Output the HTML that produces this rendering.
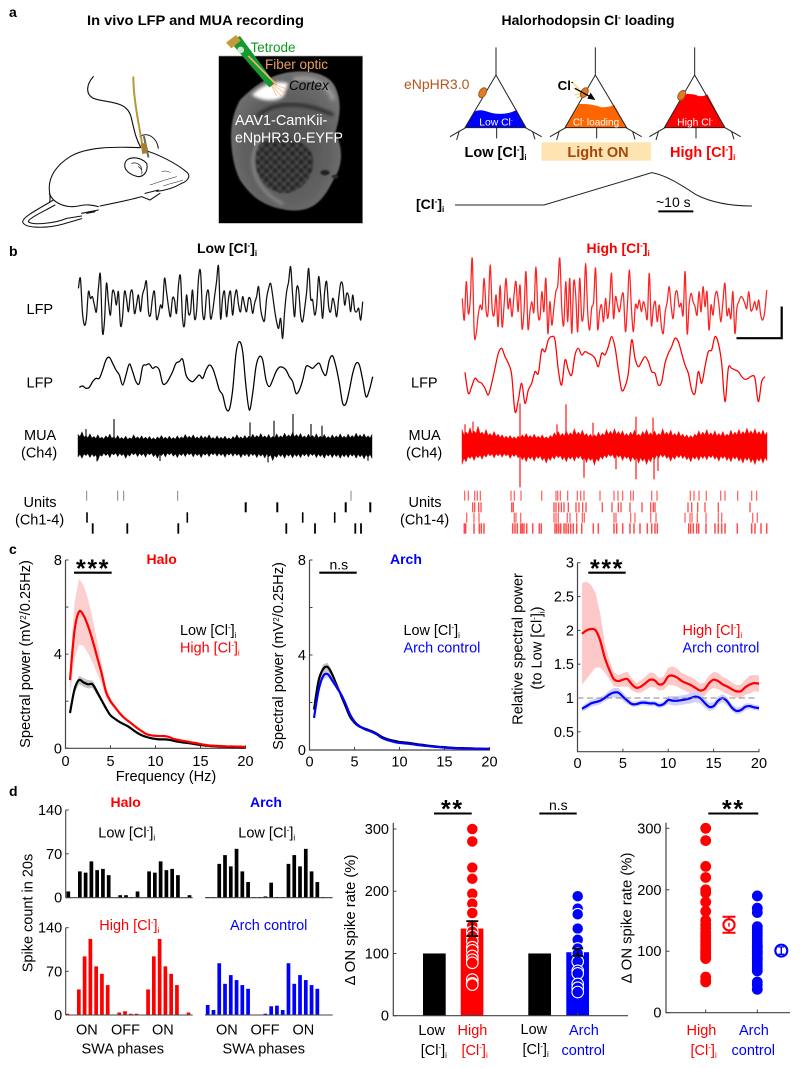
<!DOCTYPE html>
<html lang="en">
<head>
<meta charset="utf-8">
<title>Halorhodopsin chloride loading figure</title>
<style>
html,body{margin:0;padding:0;background:#fff}
svg{display:block;font-family:"Liberation Sans",sans-serif;fill:#000}
.b{font-weight:bold}
.red{fill:#f00}
.blue{fill:#00f}
</style>
</head>
<body>
<svg id="fig" xmlns="http://www.w3.org/2000/svg" width="800" height="1068" viewBox="0 0 800 1068">
<defs>
<radialGradient id="brainGrad" cx="50%" cy="55%" r="62%"><stop offset="0" stop-color="#4a4a4a"/><stop offset=".65" stop-color="#626262"/><stop offset="1" stop-color="#787878"/></radialGradient>
<pattern id="speck" width="26" height="26" patternUnits="userSpaceOnUse"><rect width="26" height="26" fill="#383838"/><circle cx="6" cy="7" r="4" fill="#1c1c1c"/><circle cx="19" cy="18" r="5" fill="#202020"/><circle cx="20" cy="5" r="3" fill="#5a5a5a"/><circle cx="7" cy="20" r="3" fill="#565656"/></pattern>
<filter id="soft" x="-20%" y="-20%" width="140%" height="140%"><feGaussianBlur stdDeviation="5"/></filter>
<filter id="soft2" x="-20%" y="-20%" width="140%" height="140%"><feGaussianBlur stdDeviation="2"/></filter>
</defs>
<rect width="800" height="1068" fill="#fff"/>

<!-- Panel letters -->
<text class="b" font-size="14" x="9" y="17">a</text>
<text class="b" font-size="14" x="9" y="256">b</text>
<text class="b" font-size="14" x="9" y="554">c</text>
<text class="b" font-size="14" x="9" y="796">d</text>

<!-- Panel a left -->
<text class="b" font-size="14" x="87" y="25" textLength="217" lengthAdjust="spacingAndGlyphs">In vivo LFP and MUA recording</text>
<g transform="scale(.33333)" fill="none" stroke="#111" stroke-width="3.2" stroke-linecap="round">
<path d="M280 230C262 250 253 280 280 295C320 310 380 300 393 350C403 390 405 410 422 442" stroke-width="3.5"/>
<path d="M420 443C340 440 260 440 210 470C170 495 145 530 148 570C150 590 152 600 148 608"/>
<path d="M160 600C120 625 68 650 68 665C72 686 140 686 190 672L245 656"/>
<path d="M165 615C130 635 85 655 85 665C100 678 170 668 200 655L245 648"/>
<path d="M148 580C160 612 200 625 235 618M235 618C260 612 275 615 295 620M245 640L295 630M260 640L285 635"/>
<path d="M300 618C340 610 390 600 425 590L450 600L480 580M435 580L475 570"/>
<path d="M430 450C470 460 530 490 562 518C574 530 560 545 545 550C520 565 490 572 470 574"/>
<path d="M375 490C380 468 420 468 440 490C446 515 430 530 415 530C390 525 370 510 375 490Z"/>
<path d="M395 490C410 485 425 495 425 510M415 500C425 505 428 515 425 522" stroke-width="2"/>
<path d="M485 515Q497 510 510 517M490 558C510 550 530 548 548 540M450 555C480 545 510 535 530 530" stroke-width="1.5"/>
<path d="M420 410C440 395 470 410 475 445" stroke-width="3"/>
<path d="M432 410L445 470" stroke-width="6" stroke="#666"/>
<path d="M400 232C400 300 420 390 430 452" stroke="#b8973a" stroke-width="6"/>
<path d="M424 432L438 430L440 458L428 460Z" fill="#a87e2a" stroke="#a87e2a"/>
</g>
<g transform="scale(.33333)">
<rect x="656" y="168" width="432" height="502" fill="#000" stroke="#aaa" stroke-width="2"/>
<path d="M720 300C760 260 800 230 860 218C930 205 990 225 1005 260C1025 300 1022 350 1005 400C1025 430 1035 490 1000 540C970 600 940 640 860 630C800 620 760 600 720 540C695 490 690 420 695 380C700 340 710 320 720 300Z" fill="url(#brainGrad)" filter="url(#soft2)"/>
<path d="M770 350C820 305 900 300 1000 345" fill="none" stroke="#2a2a2a" stroke-width="10" filter="url(#soft)"/>
<path d="M880 240C930 225 985 250 1000 300" fill="none" stroke="#9a9a9a" stroke-width="14" filter="url(#soft)"/>
<path d="M770 440C800 400 900 400 935 460C955 520 905 580 850 580C790 575 750 510 770 440Z" fill="url(#speck)" filter="url(#soft2)"/>
<path d="M780 420C738 480 760 570 850 612" fill="none" stroke="#8c8c8c" stroke-width="8" filter="url(#soft)"/>
<ellipse cx="975" cy="518" rx="14" ry="8" fill="#222" filter="url(#soft2)"/>
<ellipse cx="1005" cy="530" rx="10" ry="6" fill="#2a2a2a" filter="url(#soft2)"/>
<path d="M755 285C790 250 830 240 865 250L850 290C820 310 780 300 755 285Z" fill="#fff" filter="url(#soft)"/>
<path d="M690 125L720 108L825 250L808 262Z" fill="#149a2e"/>
<path d="M678 128L708 105L722 122L694 145Z" fill="#c69a3a"/>
<circle cx="722" cy="150" r="10" fill="#cde8cf"/>
<path d="M745 168L830 255" stroke="#f2b077" stroke-width="5" fill="none"/>
<path d="M820 252L862 268M820 255L858 282M818 258L845 290M815 258L830 288" stroke="#f5b070" stroke-width="2" fill="none"/>
</g>
<text style="fill:#0c9a22" font-size="13.5" x="250.5" y="52">Tetrode</text>
<text style="fill:#ec9f5e" font-size="13.5" x="265" y="69">Fiber optic</text>
<text font-style="italic" font-size="13.5" x="289" y="90">Cortex</text>
<text style="fill:#fff" font-size="14.5" x="235" y="125">AAV1-CamKii-</text>
<text style="fill:#fff" font-size="14.5" x="235" y="142.5" textLength="108" lengthAdjust="spacingAndGlyphs">eNpHR3.0-EYFP</text>

<!-- Panel a right -->
<text class="b" font-size="14" x="501.5" y="25">Halorhodopsin Cl<tspan dy="-5" font-size="8">-</tspan><tspan dy="5"> loading</tspan></text>
<g transform="translate(400 0) scale(.33333)" fill="none" stroke="#222" stroke-width="3">
<g>
<path d="M195 383L222 335Q240 326 265 336Q310 350 350 330L378 383Z" fill="#00f" stroke="none"/>
<path d="M288 142V225M288 225L195 383H378ZM290 383V415M197 383L150 410M178 392L170 420M376 383L425 410M398 395L405 418"/>
<ellipse cx="248" cy="278" rx="16" ry="10" transform="rotate(-60 248 278)" fill="#e07b28" stroke="#9c5a1f" stroke-width="3"/>
<text x="288" y="376" text-anchor="middle" font-size="31" stroke="none" style="fill:#fff">Low Cl<tspan dy="-12" font-size="17">-</tspan></text>
</g>
<g>
<path d="M495 383L538 312Q570 310 605 322Q630 322 642 314L680 383Z" fill="#f60" stroke="none"/>
<path d="M586 142V225M586 225L495 383H680ZM590 383V415M497 383L450 410M478 392L470 420M678 383L725 410M698 395L705 418"/>
<path d="M515 245L538 268M520 265L540 275M525 285L542 280M530 295L545 285" stroke="#f6d67a" stroke-width="4"/>
<ellipse cx="553" cy="278" rx="16" ry="10" transform="rotate(-60 553 278)" fill="#e07b28" stroke="#9c5a1f" stroke-width="3"/>
<path d="M525 265L570 290" stroke="#000" stroke-width="4"/>
<path d="M586 300L562 296L572 278Z" fill="#000" stroke="none"/>
<text x="588" y="376" text-anchor="middle" font-size="30" stroke="none" style="fill:#fff">Cl<tspan dy="-12" font-size="17">-</tspan><tspan dy="12"> loading</tspan></text>
<text x="473" y="270" font-size="40" font-weight="bold" stroke="none" style="fill:#000">Cl<tspan dy="-16" font-size="22">-</tspan></text>
</g>
<g>
<path d="M793 383L850 283Q880 280 895 288Q910 290 922 283L975 383Z" fill="#f00" stroke="none"/>
<path d="M884 142V225M884 225L793 383H975ZM888 383V415M795 383L748 410M776 392L768 420M975 383L1022 410M995 395L1002 418"/>
<ellipse cx="845" cy="286" rx="16" ry="10" transform="rotate(-60 845 286)" fill="#e07b28" stroke="#9c5a1f" stroke-width="3"/>
<text x="885" y="376" text-anchor="middle" font-size="31" stroke="none" style="fill:#fff">High Cl<tspan dy="-12" font-size="17">-</tspan></text>
</g>
<rect x="425" y="427" width="328" height="55" fill="#fde4b0" stroke="none"/>
<path d="M165 615L432 615L755 518C800 525 850 560 890 585C940 610 1000 618 1056 618"/>
<path d="M775 634H880" stroke="#000" stroke-width="6"/>
</g>
<text style="fill:#b5561d" font-size="14" x="404" y="89">eNpHR3.0</text>
<text class="b" font-size="14.5" x="464.5" y="157">Low [Cl<tspan dy="-5" font-size="8">-</tspan><tspan dy="5">]</tspan><tspan dy="3" font-size="8">i</tspan></text>
<text class="b" font-size="14.5" style="fill:#a8450f" x="598" y="157" text-anchor="middle">Light ON</text>
<text class="b red" font-size="14.5" x="670" y="157">High [Cl<tspan dy="-5" font-size="8">-</tspan><tspan dy="5">]</tspan><tspan dy="3" font-size="8">i</tspan></text>
<text class="b" font-size="14" x="416" y="209">[Cl<tspan dy="-5" font-size="8">-</tspan><tspan dy="5">]</tspan><tspan dy="3" font-size="8">i</tspan></text>
<text font-size="14" x="656" y="207">~10 s</text>

<!-- Panel b text -->
<text class="b" font-size="14" x="197" y="253">Low [Cl<tspan dy="-5" font-size="8">-</tspan><tspan dy="5">]</tspan><tspan dy="3" font-size="8">i</tspan></text>
<text class="b red" font-size="14" x="586.5" y="253">High [Cl<tspan dy="-5" font-size="8">-</tspan><tspan dy="5">]</tspan><tspan dy="3" font-size="8">i</tspan></text>
<g font-size="14.5">
<text x="26.5" y="314">LFP</text>
<text x="26.5" y="387.5">LFP</text>
<text x="24" y="440">MUA</text>
<text x="21" y="457.5">(Ch4)</text>
<text x="23.5" y="507">Units</text>
<text x="15" y="524.5">(Ch1-4)</text>
<text x="411" y="387.5">LFP</text>
<text x="408.5" y="440">MUA</text>
<text x="406" y="457.5">(Ch4)</text>
<text x="408.5" y="507">Units</text>
<text x="400" y="524.5">(Ch1-4)</text>
</g>
<path d="M781.7 306.5V338.2H736.5" fill="none" stroke="#000" stroke-width="2.2"/>
<g id="traces"></g>

<!-- Panel c text -->
<text class="b red" font-size="14" x="146.5" y="564">Halo</text>
<text class="b blue" font-size="14" x="390" y="564">Arch</text>
<text font-size="14.6" transform="translate(30 654) rotate(-90)" text-anchor="middle">Spectral power (mV<tspan dy="-4" font-size="8">2</tspan><tspan dy="4">/0.25Hz)</tspan></text>
<text font-size="14.6" transform="translate(283 656) rotate(-90)" text-anchor="middle">Spectral power (mV<tspan dy="-4" font-size="8">2</tspan><tspan dy="4">/0.25Hz)</tspan></text>
<text font-size="14.6" transform="translate(522.5 649) rotate(-90)" text-anchor="middle">Relative spectral power</text>
<text font-size="14.6" transform="translate(541.5 648) rotate(-90)" text-anchor="middle">(to Low [Cl<tspan dy="-5" font-size="8">-</tspan><tspan dy="5">]</tspan><tspan dy="3" font-size="8">i</tspan><tspan dy="-3">)</tspan></text>
<text font-size="14.6" x="166" y="781" text-anchor="middle">Frequency (Hz)</text>
<g font-size="14.4">
<text x="180" y="635">Low [Cl<tspan dy="-5" font-size="8">-</tspan><tspan dy="5">]</tspan><tspan dy="3" font-size="8">i</tspan></text>
<text class="red" x="180" y="652.5">High [Cl<tspan dy="-5" font-size="8">-</tspan><tspan dy="5">]</tspan><tspan dy="3" font-size="8">i</tspan></text>
<text x="403.5" y="635">Low [Cl<tspan dy="-5" font-size="8">-</tspan><tspan dy="5">]</tspan><tspan dy="3" font-size="8">i</tspan></text>
<text class="blue" x="403.5" y="652.5">Arch control</text>
<text class="red" x="682.5" y="635">High [Cl<tspan dy="-5" font-size="8">-</tspan><tspan dy="5">]</tspan><tspan dy="3" font-size="8">i</tspan></text>
<text class="blue" x="682.5" y="652.5">Arch control</text>
</g>
<g>
<path d="M74 572.7H111.7" stroke="#000" stroke-width="2.2"/>
<text class="b" font-size="25" letter-spacing="1.6" x="76" y="577">***</text>
<path d="M319.3 572.7H356.7" stroke="#000" stroke-width="2.2"/>
<text font-size="14" x="329.5" y="569.5">n.s</text>
<path d="M588.3 572.7H625.7" stroke="#000" stroke-width="2.2"/>
<text class="b" font-size="25" letter-spacing="1.6" x="590" y="577">***</text>
</g>
<g id="spectra"></g>

<!-- Panel d text -->
<text class="b red" font-size="14" x="110.5" y="807">Halo</text>
<text class="b blue" font-size="14" x="250" y="807">Arch</text>
<g font-size="14.5">
<text x="98.3" y="837.5">Low [Cl<tspan dy="-5" font-size="8">-</tspan><tspan dy="5">]</tspan><tspan dy="3" font-size="8">i</tspan></text>
<text x="238.3" y="837.5">Low [Cl<tspan dy="-5" font-size="8">-</tspan><tspan dy="5">]</tspan><tspan dy="3" font-size="8">i</tspan></text>
<text class="red" x="99.3" y="930">High [Cl<tspan dy="-5" font-size="8">-</tspan><tspan dy="5">]</tspan><tspan dy="3" font-size="8">i</tspan></text>
<text class="blue" x="230" y="930">Arch control</text>
<text transform="translate(32.5 913) rotate(-90)" text-anchor="middle">Spike count in 20s</text>
<text x="76" y="1034.5">ON</text>
<text x="111" y="1034.5">OFF</text>
<text x="152" y="1034.5">ON</text>
<text x="216" y="1034.5">ON</text>
<text x="250.5" y="1034.5">OFF</text>
<text x="292.5" y="1034.5">ON</text>
<text x="81.5" y="1053.5">SWA phases</text>
<text x="222.5" y="1053.5">SWA phases</text>
<text transform="translate(355 920) rotate(-90)" text-anchor="middle" font-size="14.8">Δ ON spike rate (%)</text>
<text transform="translate(631.5 918) rotate(-90)" text-anchor="middle" font-size="14.8">Δ ON spike rate (%)</text>
<text x="431.7" y="1035" text-anchor="middle">Low</text>
<text x="420.7" y="1055">[Cl<tspan dy="-5" font-size="8">-</tspan><tspan dy="5">]</tspan><tspan dy="3" font-size="8">i</tspan></text>
<text class="red" x="457.5" y="1035">High</text>
<text class="red" x="461.5" y="1055">[Cl<tspan dy="-5" font-size="8">-</tspan><tspan dy="5">]</tspan><tspan dy="3" font-size="8">i</tspan></text>
<text x="520.5" y="1034">Low</text>
<text x="522.5" y="1054">[Cl<tspan dy="-5" font-size="8">-</tspan><tspan dy="5">]</tspan><tspan dy="3" font-size="8">i</tspan></text>
<text class="blue" x="569" y="1035">Arch</text>
<text class="blue" x="561.5" y="1055">control</text>
<text class="red" x="686.5" y="1035">High</text>
<text class="red" x="690.5" y="1055">[Cl<tspan dy="-5" font-size="8">-</tspan><tspan dy="5">]</tspan><tspan dy="3" font-size="8">i</tspan></text>
<text class="blue" x="739" y="1035">Arch</text>
<text class="blue" x="731.5" y="1055">control</text>
</g>
<g>
<path d="M434 813.5H471.7" stroke="#000" stroke-width="2"/>
<text class="b" font-size="25" letter-spacing="1.6" x="441" y="817.5">**</text>
<path d="M539.3 813.5H576.7" stroke="#000" stroke-width="2"/>
<text font-size="14" x="549" y="810">n.s</text>
<path d="M708.3 813.5H758.3" stroke="#000" stroke-width="2"/>
<text class="b" font-size="25" letter-spacing="1.6" x="722" y="817.5">**</text>
</g>
<g id="rates"></g>
</svg>

<script>
/* ---------- Panel b data (signal units, seconds) ---------- */
const lfpFastLow = [40,70,-30,-70,-50,30,10,15,-10,-30,40,80,-90,-60,55,0,-40,30,25,-10,30,-70,-50,30,10,-30,25,30,-35,-10,20,-30,20,40,60,-30,-40,10,30,-50,-40,-10,-15,70,30,-15,-45,10,5,-35,50,75,-50,-70,20,-35,-30,35,-50,-30,70,90,-30,-50,20,30,-50,-30,15,60,105,-50,10,30,-45,10,30,-40,10,35,-10,-30,15,-10,-30,10,5,-35,-5,15,45,-20,-50,-55,10,40,55,20,-25,-60,-80,-50,-110,-30,30,60,105,20,-45,40,35,-40,-60,-20,30,100,10,5,-40,-10,75,20,-50,30,60,-15,-30,10,-10,-45,10,55,50,-10,25,15,-30,20,-25,-30,-20,-55,0];
const lfpFastHigh = [10,-55,60,-35,5,130,-95,-95,-40,-10,-20,70,-30,-30,110,-20,-40,20,-75,50,-75,-10,70,-20,10,-45,20,60,-30,50,-80,-30,90,-80,-30,0,-30,105,-30,-50,30,-30,70,-95,0,-70,-20,30,50,130,-20,-70,60,-60,70,-95,60,20,-90,70,-50,-30,115,-30,-85,-20,0,100,-80,-30,-10,-60,10,-50,-5,85,-50,15,-10,-30,10,20,-90,-10,95,-20,-90,-10,-20,5,-30,0,-20,-50,85,-70,-20,0,-60,-10,-70,-95,-30,0,45,-15,-50,20,30,-15,-5,-40,90,-95,-10,25,0,-15,-40,30,-30,45,-15,30,-85,-10,-40,15,30,-10,-60,0,55,-40,-20,-50,30,-95,-20,0,15,10,-5,-20,30,-25,-20,0,-25,5,-40,-55,-30,35];
const lfpSlowLow = [-22,-18,-25,-22,-5,5,5,30,60,68,50,30,15,-15,15,48,25,-5,-10,40,45,48,35,40,30,-10,-10,5,25,50,55,62,15,0,-5,5,15,5,30,45,35,5,-30,-45,-85,-88,-30,80,115,85,-20,-90,-40,40,70,60,0,-20,0,25,38,38,30,10,-5,-40,-30,0,40,40,35,45,50,25,15,60,72,40,-10,-70,-70,-30,20,50,45,0,-50,-30,10];
const lfpSlowHigh = [3,-60,-40,-15,-25,-30,-45,-65,-30,15,60,75,50,30,-5,-115,-80,-30,-90,-50,-30,5,0,70,65,100,110,100,10,-35,40,10,-5,55,75,55,65,60,55,45,20,60,55,80,110,78,10,-50,-40,0,100,45,20,35,50,35,5,0,-35,-25,30,60,80,105,95,60,25,0,-50,-60,5,-30,20,65,70,110,90,30,-85,15,15,10,5,-10,-18,-15,-8,-15,-85,-25,-10];
const muaTopLow = [34,42,30,36,28,33,26,30,35,27,31,25,29,24,33,27,30,26,28,24,27,31,26,29,25,30,27,34,29,33,27,31,28,33,25,30,26,29,24,28,33,27,31,29,35,31,37,30,34,28,36,30,38,33,40,34,37,30,35,31,36,29,34,28,33,30,36,29,35,31,38,33,36,30,34];
const muaBottomLow = [-34,-38,-30,-36,-33,-44,-32,-30,-36,-28,-33,-30,-38,-32,-28,-33,-30,-35,-28,-33,-38,-30,-34,-28,-32,-36,-30,-33,-28,-34,-30,-36,-29,-33,-28,-32,-30,-35,-29,-32,-30,-36,-31,-34,-30,-36,-32,-37,-33,-45,-36,-33,-38,-32,-37,-33,-36,-31,-34,-30,-36,-33,-38,-32,-36,-33,-38,-34,-36,-32,-38,-34,-40,-35,-38];
const muaTopHigh = [50,42,55,45,60,42,50,38,44,36,34,30,32,28,30,34,38,32,36,30,34,28,32,40,44,38,46,40,52,42,48,38,36,34,42,38,50,45,52,44,46,38,42,48,36,44,50,40,46,38,52,42,48,38,44,36,34,32,36,46,42,50,40,46,38,44,36,48,42,50,44,54,46,52,44,48,42];
const muaBottomHigh = [-55,-48,-38,-44,-36,-40,-34,-30,-36,-30,-34,-30,-38,-32,-36,-42,-48,-40,-46,-38,-44,-52,-44,-40,-36,-42,-48,-40,-46,-38,-42,-50,-44,-58,-46,-40,-36,-32,-38,-34,-44,-38,-48,-42,-52,-46,-56,-48,-40,-36,-34,-38,-46,-40,-36,-38,-42,-48,-40,-44,-38,-42,-36,-40,-46,-38,-44,-48,-40,-46,-52,-44,-50,-56,-46,-52,-44];
const muaSpikeTimesLow = [0.8,3.6,17.2,19.6,21.5,23.3,24.4,1.9,8.2,19.0,29.0];
const muaSpikeValuesLow = [50,80,70,75,95,65,60,-47,-46,-50,-45];
const muaSpikeTimesHigh = [5.8,5.8,10.4,17.4,19.1,13.1,9.5,1.1,0.3,12.2,17.4,19.2,15.4,19.6];
const muaSpikeValuesHigh = [128,-124,125,88,85,70,65,73,65,-95,-100,-100,-70,-75];
const unitsLow1 = [0.87,3.97,4.57,9.97,27.3];
const unitsLow2 = [16.77,19.93,26.77,29.23];
const unitsLow3 = [0.9,10.93,22.47,25.67];
const unitsLow4 = [1.47,4.93,10.03,20.83,23.7,27.73,28.3];
const unitsHigh1 = [0.27,0.63,1.27,1.53,1.83,4.9,5.23,5.9,7.97,9.4,9.57,9.83,10.57,11.53,11.87,12.2,13.8,15.2,15.6,16.07,16.87,17.13,18.97,19.5,22.83,23.2,23.7,24.43,25.87,26.3,27.57,28.97,29.47];
const unitsHigh2 = [1.07,1.27,1.67,1.9,4.97,5.13,9.2,9.4,9.67,9.93,10.2,10.63,11.4,11.7,12.07,12.4,14.03,15,15.63,15.9,16.8,18,18.87,19.13,19.3,22.6,22.97,23.57,24.3,25.63,28.8];
const unitsHigh3 = [0.47,1.2,1.7,5.23,5.4,5.87,9.2,9.4,9.63,10.53,10.8,11.47,12.03,12.23,15.2,15.4,16.87,17.3,18.87,19.4,22.3,22.8,23,23.53,24.4,25.63,25.97,29.07,29.53];
const unitsHigh4 = [0.23,0.37,1.2,1.73,1.93,2.2,5.07,5.3,5.53,5.87,6.03,6.2,6.47,7.07,7.73,7.93,9.3,9.47,9.67,9.87,10.2,10.4,10.63,10.87,11.13,11.47,11.97,13.13,13.63,15.2,15.47,16.07,16.8,17.2,17.8,18.53,18.97,19.3,19.53,22.67,22.87,23.13,23.47,23.67,24.4,25.3,25.63,25.97,26.3,27.53,28.97,29.3,29.9,30.47];

/* ---------- Panel c data ---------- */
const freqs = [0.5,1,1.5,2,2.5,3,3.5,4,4.5,5,5.5,6,6.5,7,7.5,8,8.5,9,9.5,10,10.5,11,11.5,12,12.5,13,13.5,14,14.5,15,15.5,16,16.5,17,17.5,18,18.5,19,19.5,20];
const haloLow = [1.5,2.5,2.9,2.8,2.72,2.72,2.4,2.05,1.7,1.4,1.25,1.12,1.02,0.92,0.78,0.65,0.55,0.48,0.43,0.4,0.38,0.38,0.36,0.32,0.28,0.25,0.23,0.2,0.17,0.14,0.12,0.1,0.09,0.08,0.07,0.06,0.05,0.05,0.04,0.04];
const haloLowSem = [0.1,0.15,0.18,0.18,0.18,0.16,0.14,0.1,0.08,0.06,0.05,0.05,0.04,0.04,0.03,0.03,0.03,0.03,0.02,0.02,0.02,0.02,0.02,0.02,0.02,0.02,0.01,0.01,0.01,0.01,0.01,0.01,0.01,0.01,0.01,0.01,0.01,0.01,0.01,0.01];
const haloHigh = [2.9,5.0,5.8,5.65,5.2,4.6,3.9,3.2,2.4,2.0,1.75,1.5,1.3,1.15,1.0,0.85,0.72,0.6,0.55,0.53,0.52,0.52,0.48,0.4,0.36,0.32,0.29,0.25,0.22,0.18,0.15,0.12,0.11,0.1,0.09,0.08,0.08,0.07,0.07,0.06];
const haloHighSem = [0.7,1.2,1.4,1.3,1.15,0.95,0.7,0.45,0.25,0.15,0.1,0.08,0.06,0.05,0.05,0.04,0.04,0.03,0.03,0.03,0.03,0.03,0.03,0.02,0.02,0.02,0.02,0.02,0.02,0.02,0.02,0.01,0.01,0.01,0.01,0.01,0.01,0.01,0.01,0.01];
const archLow = [1.7,2.9,3.4,3.5,3.2,2.75,2.3,1.85,1.4,1.15,1.0,0.92,0.85,0.78,0.68,0.56,0.48,0.42,0.38,0.34,0.32,0.3,0.27,0.24,0.22,0.19,0.17,0.15,0.13,0.12,0.1,0.09,0.08,0.08,0.07,0.07,0.06,0.06,0.05,0.05];
const archLowSem = [0.1,0.15,0.2,0.18,0.15,0.12,0.1,0.08,0.06,0.05,0.04,0.04,0.03,0.03,0.03,0.03,0.02,0.02,0.02,0.02,0.02,0.02,0.01,0.01,0.01,0.01,0.01,0.01,0.01,0.01,0.01,0.01,0.01,0.01,0.01,0.01,0.01,0.01,0.01,0.01];
const archControl = [1.35,2.5,3.1,3.2,2.95,2.65,2.35,1.95,1.5,1.2,1.02,0.9,0.82,0.75,0.65,0.52,0.44,0.38,0.33,0.3,0.28,0.26,0.24,0.21,0.19,0.17,0.15,0.13,0.12,0.1,0.09,0.08,0.08,0.07,0.07,0.06,0.06,0.06,0.05,0.05];
const archControlSem = [0.1,0.12,0.14,0.14,0.12,0.1,0.08,0.06,0.05,0.04,0.03,0.03,0.03,0.03,0.02,0.02,0.02,0.02,0.02,0.01,0.01,0.01,0.01,0.01,0.01,0.01,0.01,0.01,0.01,0.01,0.01,0.01,0.01,0.01,0.01,0.01,0.01,0.01,0.01,0.01];
const relHigh = [1.95,2.0,2.02,2.0,1.85,1.6,1.42,1.28,1.25,1.27,1.28,1.2,1.15,1.17,1.22,1.27,1.26,1.2,1.22,1.32,1.33,1.3,1.25,1.22,1.19,1.15,1.11,1.13,1.22,1.27,1.25,1.2,1.17,1.13,1.1,1.1,1.16,1.2,1.22,1.21];
const relHighSem = [0.75,0.72,0.65,0.55,0.4,0.22,0.14,0.1,0.09,0.1,0.11,0.09,0.07,0.09,0.1,0.11,0.1,0.09,0.1,0.13,0.14,0.13,0.12,0.12,0.12,0.12,0.1,0.1,0.11,0.12,0.12,0.11,0.11,0.1,0.09,0.1,0.11,0.13,0.12,0.12];
const relArch = [0.84,0.88,0.92,0.94,0.96,1.0,1.05,1.08,1.08,1.02,0.96,0.91,0.91,0.93,0.93,0.92,0.92,0.89,0.91,0.97,0.96,0.96,0.97,0.98,1.0,1.02,1.0,0.93,0.87,0.88,0.96,1.0,0.95,0.86,0.81,0.82,0.87,0.88,0.86,0.85];
const relArchSem = [0.04,0.05,0.05,0.05,0.05,0.05,0.06,0.07,0.07,0.06,0.05,0.04,0.04,0.04,0.04,0.04,0.04,0.04,0.04,0.06,0.07,0.07,0.07,0.07,0.08,0.08,0.08,0.07,0.06,0.06,0.06,0.06,0.06,0.05,0.05,0.05,0.05,0.04,0.04,0.04];
const powerTicks = [0,2,4,6,8];
const powerTickLabels = ['0','','4','','8'];
const freqTicks = [0,5,10,15,20];
const relTicks = [0.5,1,1.5,2,2.5,3];
const relTickLabels = ['0.5','1','1.5','2','2.5','3'];

/* ---------- Panel d data ---------- */
const haloLowCounts = [10,0,42,40,58,44,46,36,0,4,4,1,10,0,42,40,58,44,46,36,0,4];
const haloHighCounts = [2,0,41,94,122,78,66,48,0,4,6,2,2,0,41,94,122,78,66,48,0,4];
const archLowCounts = [1,1,54,68,50,78,42,25,1,1,2,24,1,1,54,68,50,78,42,25,1];
const archControlCounts = [16,8,83,50,64,56,48,42,0,0,2,14,15,8,83,50,64,56,48,42];
const countTicks = [0,70,140];
const rateTicks = [0,100,200,300];
const barGroups = ['low-halo','high-halo','low-arch','arch-control'];
const barMeans = [100,140,100,102];
const highMean = 140;
const highSem = 12;
const archMean = 102;
const archSem = 6;
const barHighDots = [300,280,238,220,196,180,165,145,135,128,120,110,105,96,90,85,58,52,50];
const barArchDots = [192,172,163,140,122,108,100,87,72,68,51,45,38];
const scatterHigh = [300,280,238,220,200,195,180,165,150,143,137,130,126,123,118,114,110,106,102,100,98,95,92,90,88,58,52,50];
const scatterArch = [190,170,163,140,135,130,125,120,115,110,108,105,100,98,95,90,88,85,80,76,72,68,50,45,38];
const scatterHighMean = 143;
const scatterHighSem = 13;
const scatterArchMean = 101;
const scatterArchSem = 6;

/* ---------- helpers ---------- */
const NS = 'http://www.w3.org/2000/svg';
function lin(d0, d1, r0, r1) { return v => r0 + (v - d0) * (r1 - r0) / (d1 - d0); }
function mk(parent, tag, name, attrs) {
  const el = document.createElementNS(NS, tag);
  
  
  Object.keys(attrs || {}).forEach(k => el.setAttribute(k, attrs[k]));
  parent.appendChild(el);
  return el;
}
function pathOf(xs, ys) { return xs.map((x, i) => (i ? 'L' : 'M') + x.toFixed(2) + ' ' + ys[i].toFixed(2)).join(''); }
function smoothOf(xs, ys) {
  let d = 'M' + xs[0].toFixed(2) + ' ' + ys[0].toFixed(2);
  for (let i = 0; i < xs.length - 1; i++) {
    const p0 = Math.max(i - 1, 0), p3 = Math.min(i + 2, xs.length - 1);
    const c1x = xs[i] + (xs[i + 1] - xs[p0]) / 6, c1y = ys[i] + (ys[i + 1] - ys[p0]) / 6;
    const c2x = xs[i + 1] - (xs[p3] - xs[i]) / 6, c2y = ys[i + 1] - (ys[p3] - ys[i]) / 6;
    d += 'C' + c1x.toFixed(2) + ' ' + c1y.toFixed(2) + ' ' + c2x.toFixed(2) + ' ' + c2y.toFixed(2) + ' ' + xs[i + 1].toFixed(2) + ' ' + ys[i + 1].toFixed(2);
  }
  return d;
}

/* ---------- Panel b ---------- */
const tr = document.getElementById('traces');
function drawLine(name, values, x0, x1, yc, color, smooth) {
  const sx = lin(0, values.length - 1, x0, x1);
  const sy = lin(0, 3, yc, yc - 1);
  const xs = values.map((v, i) => sx(i));
  const ys = values.map(sy);
  mk(tr, 'path', name, {d: smooth ? smoothOf(xs, ys) : pathOf(xs, ys), fill: 'none', stroke: color, 'stroke-width': 1.25, 'stroke-linejoin': 'round'});
}
drawLine('lfp-fast-low-trace', lfpFastLow, 78.4, 362.7, 301.7, '#111', true);
drawLine('lfp-fast-high-trace', lfpFastHigh, 462.3, 766.7, 301.7, '#f22', true);
drawLine('lfp-slow-low-trace', lfpSlowLow, 79.3, 372.7, 380, '#000', true);
drawLine('lfp-slow-high-trace', lfpSlowHigh, 465, 765, 373.3, '#f00', true);

function teeth(values, sx) {
  const xs = [], ys = [];
  values.forEach((v, i) => {
    xs.push(sx(i)); ys.push(v);
    if (i < values.length - 1) { xs.push(sx(i + 0.5)); ys.push(0.72 * (v + values[i + 1]) / 2); }
  });
  return {xs: xs, ys: ys};
}
function drawMua(name, top, bottom, times, values, x0, x1, yc, color) {
  const g = mk(tr, 'g', name, {});
  const sy = lin(0, 3, yc, yc - 1);
  const t = teeth(top, lin(0, top.length - 1, x0, x1));
  const b = teeth(bottom, lin(0, bottom.length - 1, x0, x1));
  const xs = t.xs.concat(b.xs.slice().reverse());
  const ys = t.ys.concat(b.ys.slice().reverse()).map(sy);
  mk(g, 'path', name + '-band', {d: pathOf(xs, ys) + 'Z', fill: color, stroke: color, 'stroke-width': 0.4});
  const st = lin(0, (x1 - x0) / 10, x0, x1);
  times.forEach((s, i) => {
    mk(g, 'line', name + '-spike', {x1: st(s), x2: st(s), y1: yc, y2: sy(values[i]), stroke: color, 'stroke-width': 1.1});
  });
}
drawMua('mua-low-trace', muaTopLow, muaBottomLow, muaSpikeTimesLow, muaSpikeValuesLow, 78, 372, 445.7, '#000');
drawMua('mua-high-trace', muaTopHigh, muaBottomHigh, muaSpikeTimesHigh, muaSpikeValuesHigh, 462, 767, 446, '#f00');

function drawRaster(name, times, x0, y0, y1, color, width, op) {
  const g = mk(tr, 'g', name, {});
  const st = lin(0, 1, x0, x0 + 10);
  times.forEach(t => {
    mk(g, 'line', 'unit-spike', {x1: st(t), x2: st(t), y1: y0, y2: y1, stroke: color, 'stroke-width': width, opacity: op});
  });
}
drawRaster('units-low-channel-1', unitsLow1, 78, 490.7, 500.7, '#777', 0.9, 1);
drawRaster('units-low-channel-2', unitsLow2, 78, 502.3, 512.3, '#000', 2, 1);
drawRaster('units-low-channel-3', unitsLow3, 78, 512.3, 522.7, '#000', 1.6, 1);
drawRaster('units-low-channel-4', unitsLow4, 78, 523.3, 533.7, '#000', 1.8, 1);
drawRaster('units-high-channel-1', unitsHigh1, 462, 490.7, 500.7, '#f00', 1.2, 0.65);
drawRaster('units-high-channel-2', unitsHigh2, 462, 502.3, 512.3, '#f00', 1.3, 0.7);
drawRaster('units-high-channel-3', unitsHigh3, 462, 512.7, 522.7, '#f00', 1.3, 0.6);
drawRaster('units-high-channel-4', unitsHigh4, 462, 523.3, 533.7, '#f00', 1.5, 0.7);

/* ---------- Panel c ---------- */
const sp = document.getElementById('spectra');
function drawAxes(parent, prefix, sx, sy, xTicks, xLabels, yTicks, yLabels, xMax, yBase, yTop, xLabelY, tickLen) {
  const g = mk(parent, 'g', prefix + '-axes', {});
  const x0 = sx(0);
  mk(g, 'path', prefix + '-axis-lines', {d: 'M' + x0 + ' ' + yTop + 'V' + yBase + 'H' + xMax, fill: 'none', stroke: '#444', 'stroke-width': 1.2});
  xTicks.forEach((t, i) => {
    mk(g, 'line', prefix + '-x-tick', {x1: sx(t), x2: sx(t), y1: yBase, y2: yBase - tickLen, stroke: '#444', 'stroke-width': 1});
    if (xLabels[i] !== '') {
      const tx = mk(g, 'text', prefix + '-x-tick-label', {x: sx(t), y: xLabelY, 'text-anchor': 'middle', 'font-size': 14.5});
      tx.textContent = xLabels[i];
    }
  });
  yTicks.forEach((t, i) => {
    mk(g, 'line', prefix + '-y-tick', {x1: x0, x2: x0 + tickLen, y1: sy(t), y2: sy(t), stroke: '#444', 'stroke-width': 1});
    if (yLabels[i] !== '') {
      const tx = mk(g, 'text', prefix + '-y-tick-label', {x: x0 - 3.5, y: sy(t) + 5, 'text-anchor': 'end', 'font-size': 14.5});
      tx.textContent = yLabels[i];
    }
  });
}
function drawSeries(parent, name, xs, mean, sem, sx, sy, color, band) {
  const g = mk(parent, 'g', name, {});
  const up = mean.map((m, i) => sy(m + sem[i]));
  const dn = mean.map((m, i) => sy(m - sem[i]));
  const px = xs.map(sx);
  mk(g, 'path', name + '-error-band', {d: pathOf(px.concat(px.slice().reverse()), up.concat(dn.slice().reverse())) + 'Z', fill: band, stroke: 'none'});
  mk(g, 'path', name + '-mean-line', {d: smoothOf(px, mean.map(sy)), fill: 'none', stroke: color, 'stroke-width': 2.2, 'stroke-linejoin': 'round'});
}
const c1x = lin(0, 20, 65.5, 245.5);
const c1y = lin(0, 8, 748.3, 560);
drawAxes(sp, 'halo-spectrum', c1x, c1y, freqTicks, freqTicks.map(String), powerTicks, powerTickLabels, 246, 748.3, 560, 766, 3);
drawSeries(sp, 'halo-low-series', freqs, haloLow, haloLowSem, c1x, c1y, '#000', '#c4c4c4');
drawSeries(sp, 'halo-high-series', freqs, haloHigh, haloHighSem, c1x, c1y, '#f00', '#fdd0d0');

const c2x = lin(0, 20, 309.5, 489.5);
const c2y = lin(0, 8, 750, 560);
drawAxes(sp, 'arch-spectrum', c2x, c2y, freqTicks, freqTicks.map(String), powerTicks, powerTickLabels, 490, 750, 560, 766.7, 3);
drawSeries(sp, 'arch-low-series', freqs, archLow, archLowSem, c2x, c2y, '#000', '#c4c4c4');
drawSeries(sp, 'arch-control-series', freqs, archControl, archControlSem, c2x, c2y, '#00f', '#cfd0fb');

const c3x = lin(0, 20, 577.5, 759);
const c3y = lin(1, 3, 698, 562.7);
drawAxes(sp, 'relative-spectrum', c3x, c3y, freqTicks, freqTicks.map(String), relTicks, relTickLabels, 759.5, 751.7, 562.7, 768, 3);
drawSeries(sp, 'relative-high-series', freqs, relHigh, relHighSem, c3x, c3y, '#f00', '#fcc8c8');
drawSeries(sp, 'relative-arch-series', freqs, relArch, relArchSem, c3x, c3y, '#00f', '#cfd0fb');
mk(sp, 'line', 'unity-reference-line', {x1: c3x(0), x2: c3x(19.5), y1: c3y(1), y2: c3y(1), stroke: '#8a8a8a', 'stroke-width': 1.1, 'stroke-dasharray': '6 3.5'});

/* ---------- Panel d ---------- */
const ra = document.getElementById('rates');
function drawHist(name, counts, binStart, yBase, yTop, xAxis0, xAxis1, color, showAxis) {
  const g = mk(ra, 'g', name, {});
  const sy = lin(0, 140, yBase, yTop);
  const sb = lin(0, 1, binStart, binStart + 5.77);
  counts.forEach((c, i) => {
    mk(g, 'rect', name + '-bar', {x: sb(i) - 1.85, y: sy(c), width: 3.7, height: yBase - sy(c), fill: color});
  });
  mk(g, 'line', name + '-x-axis', {x1: xAxis0, x2: xAxis1, y1: yBase, y2: yBase, stroke: '#444', 'stroke-width': 1.1});
  if (showAxis) {
    mk(g, 'line', name + '-y-axis', {x1: xAxis0, x2: xAxis0, y1: yBase, y2: yTop, stroke: '#444', 'stroke-width': 1.1});
    countTicks.forEach(t => {
      mk(g, 'line', name + '-y-tick', {x1: xAxis0, x2: xAxis0 + 3, y1: sy(t), y2: sy(t), stroke: '#444', 'stroke-width': 1});
      const tx = mk(g, 'text', name + '-y-tick-label', {x: xAxis0 - 3.5, y: sy(t) + 5, 'text-anchor': 'end', 'font-size': 14.5});
      tx.textContent = String(t);
    });
  }
}
drawHist('halo-low-histogram', haloLowCounts, 68.3, 897.7, 810, 65.7, 192.7, '#000', true);
drawHist('halo-high-histogram', haloHighCounts, 67.3, 1015, 927.7, 65.7, 192.7, '#f00', true);
drawHist('arch-low-histogram', archLowCounts, 207.7, 897.7, 810, 205, 332.7, '#000', false);
drawHist('arch-control-histogram', archControlCounts, 207.7, 1015, 927.7, 205, 332.7, '#00f', false);

const by = lin(0, 300, 1015.7, 829);
const barLeft = {'low-halo': 423, 'high-halo': 460.7, 'low-arch': 528.3, 'arch-control': 566.3};
const barColor = {'low-halo': '#000', 'high-halo': '#f00', 'low-arch': '#000', 'arch-control': '#00f'};
const barPanel = mk(ra, 'g', 'rate-bar-chart', {});
barGroups.forEach((k, i) => {
  mk(barPanel, 'rect', 'rate-bar-' + k, {x: barLeft[k], y: by(barMeans[i]), width: 22.7, height: 1015.7 - by(barMeans[i]), fill: barColor[k]});
});
function dots(parent, name, values, cx, sy, color, edge) {
  values.forEach(v => {
    const a = {cx: cx, cy: sy(v), r: edge ? 5.8 : 5.4, fill: color};
    if (edge) { a.stroke = '#fff'; a['stroke-width'] = 1.1; }
    mk(parent, 'circle', name, a);
  });
}
dots(barPanel, 'high-cell-dot', barHighDots, 472.3, by, '#f00', true);
dots(barPanel, 'arch-cell-dot', barArchDots, 577.7, by, '#00f', true);
function errBar(parent, name, cx, mean, sem, sy, color, cap, w) {
  mk(parent, 'path', name, {d: 'M' + (cx - cap) + ' ' + sy(mean + sem) + 'H' + (cx + cap) + 'M' + (cx - cap) + ' ' + sy(mean - sem) + 'H' + (cx + cap) + 'M' + cx + ' ' + sy(mean + sem) + 'V' + sy(mean - sem), fill: 'none', stroke: color, 'stroke-width': w});
}
errBar(barPanel, 'high-error-bar', 472.3, highMean, highSem, by, '#000', 6, 1.8);
errBar(barPanel, 'arch-error-bar', 577.7, archMean, archSem, by, '#000', 5.5, 1.8);
mk(barPanel, 'path', 'rate-bar-axes', {d: 'M393.3 822.7V1015.7H628', fill: 'none', stroke: '#444', 'stroke-width': 1.2});
[472.3, 577.7].forEach(x => {
  mk(barPanel, 'line', 'rate-bar-x-tick', {x1: x, x2: x, y1: 1015.7, y2: 1012.5, stroke: '#444', 'stroke-width': 1});
});
rateTicks.forEach(t => {
  mk(barPanel, 'line', 'rate-bar-y-tick', {x1: 393.3, x2: 396.5, y1: by(t), y2: by(t), stroke: '#444', 'stroke-width': 1});
  const tx = mk(barPanel, 'text', 'rate-bar-y-tick-label', {x: 389, y: by(t) + 5, 'text-anchor': 'end', 'font-size': 14.5});
  tx.textContent = String(t);
});

const sy2 = lin(0, 300, 1012.7, 828.3);
const scPanel = mk(ra, 'g', 'rate-scatter-chart', {});
dots(scPanel, 'scatter-high-dot', scatterHigh, 705.7, sy2, '#f00', false);
dots(scPanel, 'scatter-arch-dot', scatterArch, 757.3, sy2, '#00f', false);
errBar(scPanel, 'scatter-high-error-bar', 729, scatterHighMean, scatterHighSem, sy2, '#f00', 6.5, 2);
mk(scPanel, 'circle', 'scatter-high-mean', {cx: 729, cy: sy2(scatterHighMean), r: 5.6, fill: '#fff', stroke: '#f00', 'stroke-width': 2.1});
errBar(scPanel, 'scatter-high-error-bar-inner', 729, scatterHighMean, 3, sy2, '#f00', 0, 1.5);
mk(scPanel, 'circle', 'scatter-arch-mean', {cx: 781.3, cy: sy2(scatterArchMean), r: 6, fill: '#fff', stroke: '#00f', 'stroke-width': 2.1});
errBar(scPanel, 'scatter-arch-error-bar', 781.3, scatterArchMean, scatterArchSem, sy2, '#00f', 3, 1.4);
mk(scPanel, 'path', 'scatter-axes', {d: 'M666 822.7V1012.7H790', fill: 'none', stroke: '#444', 'stroke-width': 1.2});
[705.7, 757.3].forEach(x => {
  mk(scPanel, 'line', 'scatter-x-tick', {x1: x, x2: x, y1: 1012.7, y2: 1009.5, stroke: '#444', 'stroke-width': 1});
});
rateTicks.forEach(t => {
  mk(scPanel, 'line', 'scatter-y-tick', {x1: 666, x2: 669.5, y1: sy2(t), y2: sy2(t), stroke: '#444', 'stroke-width': 1});
  const tx = mk(scPanel, 'text', 'scatter-y-tick-label', {x: 661.5, y: sy2(t) + 5, 'text-anchor': 'end', 'font-size': 14.5});
  tx.textContent = String(t);
});
</script>
</body>
</html>
